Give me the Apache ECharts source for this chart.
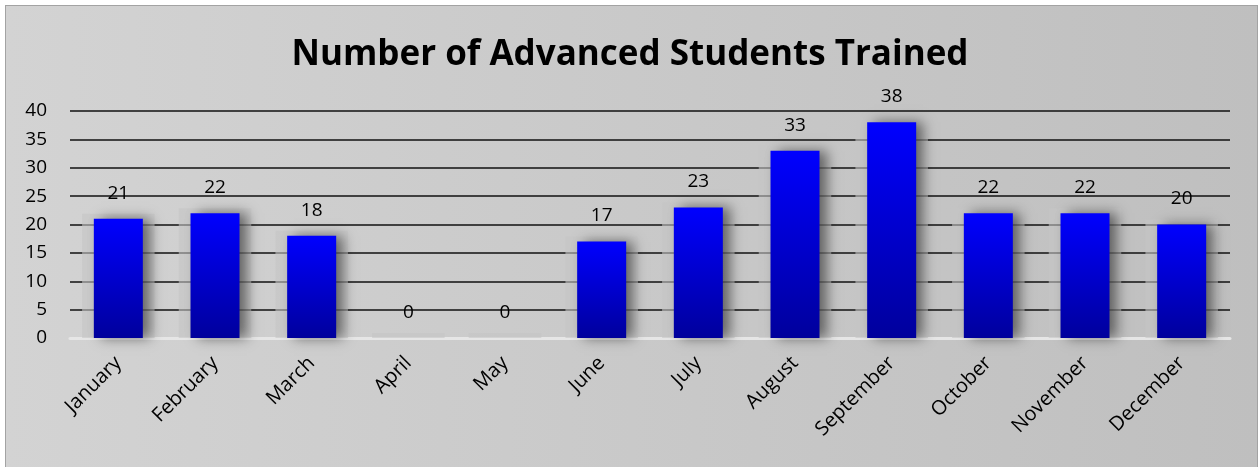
<!DOCTYPE html>
<html lang="en">

<head>
  <meta charset="UTF-8">
  <title>Number of Advanced Students Trained</title>
  <script src="https://cdn.jsdelivr.net/npm/echarts@6/dist/echarts.min.js"></script>
  <style>
    * {
      padding: 0;
      margin: 0;
    }

    body {
      background: #fff;
      width: 1260px;
      height: 467px;
      overflow: hidden;
      position: relative;
    }

    #frame {
      position: absolute;
      left: 5px;
      top: 5px;
      width: 1251px;
      height: 470px;
      border: 1px solid #a3a3a3;
      background: linear-gradient(to right, #d3d3d3, #bfbfbf);
    }

    #main {
      position: absolute;
      left: 0;
      top: 0;
      width: 1260px;
      height: 467px;
    }
  </style>
</head>

<body>
  <div id="frame"></div>
  <div id="main"></div>
  <script>
    var months = ['January', 'February', 'March', 'April', 'May', 'June',
      'July', 'August', 'September', 'October', 'November', 'December'];
    var students = [21, 22, 18, 0, 0, 17, 23, 33, 38, 22, 22, 20];
    var yTicks = { min: 0, max: 40, step: 5 };

    var chartDom = document.getElementById('main');
    var myChart = echarts.init(chartDom);
    var font = '"Open Sans", Lato, sans-serif';

    // light plate behind every bar, slightly taller and wider than the bar
    function backdrop(params, api) {
      var top = api.coord([api.value(0), api.value(1)]);
      var base = api.coord([api.value(0), 0]);
      var w = api.size([1, 0])[0] * 0.75;
      return {
        type: 'rect',
        shape: { x: top[0] - w / 2, y: top[1] - 5, width: w, height: base[1] - top[1] + 5 },
        style: { fill: 'rgba(196,196,196,0.6)' }
      };
    }

    var option = {
      animation: false,
      title: {
        text: 'Number of Advanced Students Trained',
        left: 'center',
        top: 33,
        textStyle: { fontFamily: font, fontSize: 35, fontWeight: 'bold', color: '#000' }
      },
      grid: { left: 70, right: 30, top: 111, bottom: 129 },
      xAxis: {
        type: 'category',
        data: months,
        axisLine: { lineStyle: { color: '#e6e6e6', width: 3 } },
        axisTick: { show: false },
        axisLabel: {
          rotate: 45, margin: 22, interval: 0,
          fontFamily: font, fontSize: 20, color: '#000'
        }
      },
      yAxis: {
        type: 'value',
        min: yTicks.min,
        max: yTicks.max,
        interval: yTicks.step,
        axisLine: { show: false },
        axisTick: { show: false },
        axisLabel: { margin: 23, fontFamily: font, fontSize: 19, color: '#000' },
        splitLine: { lineStyle: { color: '#111', width: 1.5 } }
      },
      series: [
        {
          type: 'custom',
          renderItem: backdrop,
          data: students.map(function (v, i) { return [i, v]; }),
          z: 1,
          silent: true
        },
        {
          type: 'bar',
          data: students,
          barWidth: 49,
          z: 2,
          itemStyle: {
            color: new echarts.graphic.LinearGradient(0, 0, 0, 1, [
              { offset: 0, color: '#0000ff' },
              { offset: 1, color: '#00009c' }
            ]),
            shadowColor: 'rgba(0,0,0,0.5)',
            shadowBlur: 12,
            shadowOffsetX: 7
          },
          label: {
            show: true,
            position: 'top',
            distance: 16,
            fontFamily: font,
            fontSize: 19,
            color: '#000'
          }
        }
      ]
    };

    option && myChart.setOption(option);
  </script>
</body>

</html>
